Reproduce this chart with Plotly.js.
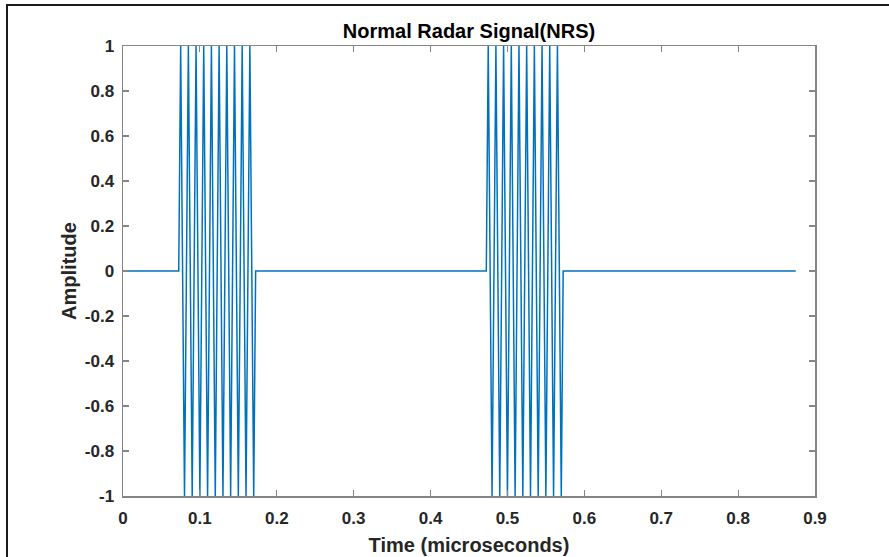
<!DOCTYPE html>
<html>
<head>
<meta charset="utf-8">
<script src="https://cdn.plot.ly/plotly-3.0.1.min.js"></script>
<style>
  html, body { margin: 0; padding: 0; background: #fff; overflow: hidden; }
  #frame { position: absolute; left: 6px; top: 4px; width: 1000px; height: 1000px;
           border-left: 2px solid #1a1a1a; border-top: 2px solid #1a1a1a; pointer-events: none; }
  #chart { position: absolute; left: 0; top: 0; width: 889px; height: 557px; }
</style>
</head>
<body>
<div id="chart"></div>
<div id="frame"></div>
<script>
// Time samples (microseconds): flat, burst 1, flat, burst 2, flat
const timeUs = [
  0, 0.0725,
  0.075, 0.080, 0.085, 0.090, 0.095, 0.100, 0.105, 0.110, 0.115, 0.120,
  0.125, 0.130, 0.135, 0.140, 0.145, 0.150, 0.155, 0.160, 0.165, 0.170,
  0.1725, 0.4725,
  0.475, 0.480, 0.485, 0.490, 0.495, 0.500, 0.505, 0.510, 0.515, 0.520,
  0.525, 0.530, 0.535, 0.540, 0.545, 0.550, 0.555, 0.560, 0.565, 0.570,
  0.5725, 0.875
];
const amplitude = [
  0, 0,
  1, -1, 1, -1, 1, -1, 1, -1, 1, -1,
  1, -1, 1, -1, 1, -1, 1, -1, 1, -1,
  0, 0,
  1, -1, 1, -1, 1, -1, 1, -1, 1, -1,
  1, -1, 1, -1, 1, -1, 1, -1, 1, -1,
  0, 0
];
const xTickVals = [0, 0.1, 0.2, 0.3, 0.4, 0.5, 0.6, 0.7, 0.8, 0.9];
const xTickText = ["0", "0.1", "0.2", "0.3", "0.4", "0.5", "0.6", "0.7", "0.8", "0.9"];
const yTickVals = [1, 0.8, 0.6, 0.4, 0.2, 0, -0.2, -0.4, -0.6, -0.8, -1];
const yTickText = ["1", "0.8", "0.6", "0.4", "0.2", "0", "-0.2", "-0.4", "-0.6", "-0.8", "-1"];

const fontFam = "Liberation Sans, Arial, Helvetica, sans-serif";
const axisCommon = {
  showgrid: false, zeroline: false, showline: true, mirror: 'ticks',
  linecolor: '#858585', linewidth: 1.5,
  ticks: 'inside', ticklen: 6, tickwidth: 1.2, tickcolor: '#858585',
  tickfont: { family: fontFam, size: 17, color: '#262626', weight: 'bold' },
  tickmode: 'array'
};

const trace = {
  x: timeUs, y: amplitude, type: 'scatter', mode: 'lines',
  line: { color: '#0072BD', width: 1.5 }, hoverinfo: 'skip'
};

const layout = {
  width: 889, height: 557,
  margin: { l: 123, r: 74, t: 46, b: 61 },
  paper_bgcolor: '#ffffff', plot_bgcolor: '#ffffff',
  showlegend: false,
  title: {
    text: '<b>Normal Radar Signal(NRS)</b>',
    font: { family: fontFam, size: 20, color: '#000000' },
    x: 0.5, xref: 'paper', xanchor: 'center',
    y: 1 - 31 / 557, yref: 'container', yanchor: 'middle'
  },
  xaxis: Object.assign({}, axisCommon, {
    range: [0, 0.9], tickvals: xTickVals, ticktext: xTickText,
    ticklabelstandoff: 6,
    title: { text: '<b>Time (microseconds)</b>', font: { family: fontFam, size: 20, color: '#262626' }, standoff: 11 }
  }),
  yaxis: Object.assign({}, axisCommon, {
    range: [-1, 1], tickvals: yTickVals, ticktext: yTickText,
    ticklabelstandoff: 4,
    title: { text: '<b>Amplitude</b>', font: { family: fontFam, size: 20, color: '#262626' }, standoff: 3 }
  })
};

Plotly.newPlot('chart', [trace], layout, { staticPlot: true, displayModeBar: false });
</script>
</body>
</html>
